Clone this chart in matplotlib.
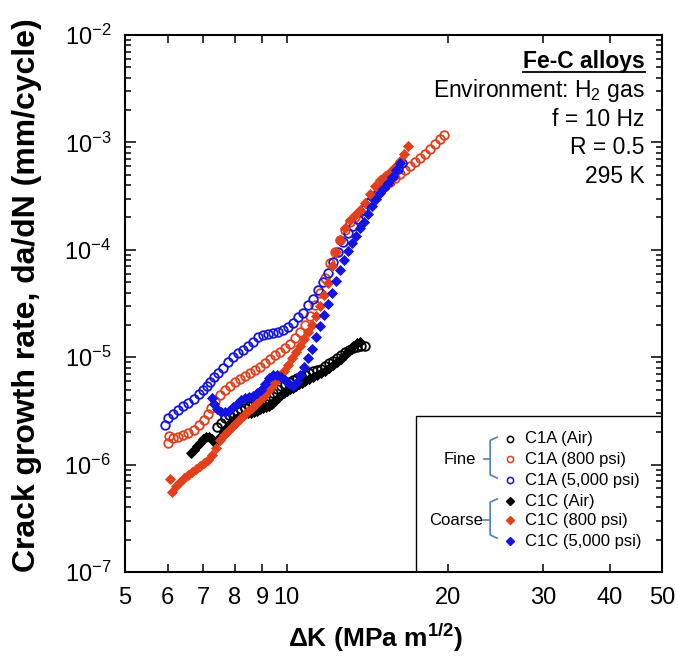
import math
import matplotlib
matplotlib.use("Agg")
import matplotlib.pyplot as plt
from matplotlib.ticker import FixedLocator, NullLocator, LogLocator, FuncFormatter, NullFormatter
from matplotlib.patches import Rectangle

plt.rcParams['font.family'] = ['Liberation Sans', 'DejaVu Sans']
plt.rcParams['mathtext.fontset'] = 'custom'
plt.rcParams['mathtext.rm'] = 'Liberation Sans'
plt.rcParams['mathtext.bf'] = 'Liberation Sans:bold'
plt.rcParams['mathtext.default'] = 'regular'

# --- data (dK in MPa m^1/2, da/dN in mm/cycle) ---
dk_c1a_air = [7.42, 7.54, 7.68, 7.81, 7.94, 8.08, 8.23, 8.37, 8.51, 8.66, 8.81, 8.96, 9.11, 9.27,
              9.43, 9.59, 9.76, 9.93, 10.1, 10.28, 10.46, 10.64, 10.82, 11.0, 11.2, 11.39, 11.59,
              11.79, 11.99, 12.2, 12.42, 12.63, 12.85, 13.07, 13.3, 13.53, 13.76, 14.0]
da_c1a_air = [2.25e-6, 2.45e-6, 2.7e-6, 2.9e-6, 3.05e-6, 3.15e-6, 3.22e-6, 3.4e-6, 3.5e-6, 3.7e-6,
              3.85e-6, 3.9e-6, 4.1e-6, 4.35e-6, 4.65e-6, 5.05e-6, 5.4e-6, 5.6e-6, 5.9e-6, 6.1e-6,
              6.4e-6, 6.7e-6, 6.9e-6, 7.1e-6, 7.4e-6, 7.6e-6, 7.8e-6, 8.3e-6, 8.9e-6, 9.2e-6,
              9.9e-6, 1.04e-5, 1.12e-5, 1.17e-5, 1.22e-5, 1.24e-5, 1.26e-5, 1.28e-5]

dk_c1a_800 = [6.0, 6.03, 6.15, 6.28, 6.42, 6.56, 6.71, 6.87, 7.02, 7.14, 7.23, 7.35, 7.51, 7.68,
              7.84, 8.01, 8.19, 8.37, 8.55, 8.73, 8.92, 9.11, 9.31, 9.51, 9.72, 9.93, 10.15, 10.37,
              10.59, 10.82, 11.05, 11.29, 11.54, 11.79, 12.04, 12.31, 12.57, 12.85, 13.12, 13.41,
              13.7, 14.0, 14.3, 14.61, 14.93, 15.25, 15.58, 15.92, 16.26, 16.61, 16.97, 17.34,
              17.72, 18.1, 18.49, 18.89, 19.3, 19.64]
da_c1a_800 = [1.6e-6, 1.85e-6, 1.75e-6, 1.82e-6, 1.89e-6, 1.97e-6, 2.1e-6, 2.34e-6, 2.6e-6, 2.95e-6,
              3.35e-6, 3.9e-6, 4.45e-6, 4.95e-6, 5.4e-6, 5.9e-6, 6.3e-6, 6.7e-6, 7.1e-6, 7.6e-6,
              8.1e-6, 8.8e-6, 9.6e-6, 1.05e-5, 1.12e-5, 1.22e-5, 1.33e-5, 1.5e-5, 1.7e-5, 1.99e-5,
              2.42e-5, 3.06e-5, 3.95e-5, 5.45e-5, 7.5e-5, 9.5e-5, 1.23e-4, 1.53e-4, 1.82e-4,
              2.0e-4, 2.25e-4, 2.5e-4, 2.85e-4, 3.24e-4, 3.6e-4, 3.95e-4, 4.3e-4, 4.7e-4, 5.1e-4,
              5.5e-4, 6.0e-4, 6.6e-4, 7.1e-4, 7.8e-4, 8.7e-4, 9.7e-4, 1.07e-3, 1.17e-3]

dk_c1a_5000 = [5.94, 6.0, 6.15, 6.28, 6.42, 6.56, 6.71, 6.87, 6.99, 7.1, 7.2, 7.32, 7.45, 7.6,
               7.77, 7.94, 8.12, 8.3, 8.48, 8.66, 8.85, 9.04, 9.23, 9.43, 9.64, 9.85, 10.06, 10.28,
               10.5, 10.73, 10.96, 11.2, 11.44, 11.69, 11.94, 12.2, 12.47, 12.74, 13.01, 13.3,
               13.58, 13.88, 14.18, 14.49, 14.8, 15.12, 15.45, 15.78, 16.12, 16.4]
da_c1a_5000 = [2.34e-6, 2.7e-6, 2.95e-6, 3.22e-6, 3.5e-6, 3.75e-6, 4.05e-6, 4.5e-6, 4.95e-6, 5.4e-6,
               5.9e-6, 6.6e-6, 7.2e-6, 8.0e-6, 9.0e-6, 1.0e-5, 1.1e-5, 1.17e-5, 1.28e-5, 1.4e-5,
               1.53e-5, 1.61e-5, 1.65e-5, 1.69e-5, 1.72e-5, 1.79e-5, 1.9e-5, 2.1e-5, 2.35e-5,
               2.6e-5, 3.06e-5, 3.5e-5, 4.2e-5, 5.0e-5, 6.1e-5, 7.7e-5, 9.5e-5, 1.17e-4, 1.43e-4,
               1.66e-4, 1.93e-4, 2.35e-4, 2.7e-4, 3.1e-4, 3.4e-4, 3.85e-4, 4.3e-4, 4.85e-4,
               5.6e-4, 6.4e-4]

dk_c1c_air = [6.64, 6.72, 6.81, 6.9, 6.99, 7.08, 7.17, 7.26, 7.35, 7.45, 7.54, 7.64, 7.74, 7.84,
              7.94, 8.05, 8.15, 8.26, 8.37, 8.48, 8.59, 8.7, 8.81, 8.92, 9.03, 9.15, 9.27, 9.39,
              9.51, 9.64, 9.76, 9.89, 10.02, 10.15, 10.28, 10.41, 10.55, 10.68, 10.82, 11.0, 11.2,
              11.39, 11.59, 11.79, 11.99, 12.2, 12.42, 12.63, 12.85, 13.07, 13.3, 13.53, 13.7]
da_c1c_air = [1.28e-6, 1.37e-6, 1.48e-6, 1.6e-6, 1.72e-6, 1.82e-6, 1.82e-6, 1.72e-6, 1.6e-6,
              1.69e-6, 1.85e-6, 2.02e-6, 2.2e-6, 2.4e-6, 2.55e-6, 2.67e-6, 2.8e-6, 2.85e-6,
              2.98e-6, 3.05e-6, 3.05e-6, 3.1e-6, 3.15e-6, 3.3e-6, 3.35e-6, 3.45e-6, 3.5e-6,
              3.7e-6, 3.95e-6, 4.2e-6, 4.45e-6, 4.65e-6, 4.85e-6, 5.05e-6, 5.15e-6, 5.4e-6,
              5.6e-6, 5.75e-6, 6.0e-6, 6.25e-6, 6.5e-6, 6.8e-6, 7.1e-6, 7.4e-6, 7.9e-6, 8.5e-6,
              9.1e-6, 9.7e-6, 1.05e-5, 1.15e-5, 1.26e-5, 1.35e-5, 1.4e-5]

dk_c1c_800 = [6.06, 6.11, 6.22, 6.33, 6.45, 6.56, 6.67, 6.78, 6.9, 7.02, 7.14, 7.26, 7.38, 7.51,
              7.64, 7.77, 7.91, 8.05, 8.19, 8.33, 8.48, 8.62, 8.77, 8.92, 9.07, 9.23, 9.39, 9.55,
              9.72, 9.89, 10.06, 10.24, 10.42, 10.59, 10.78, 10.96, 11.15, 11.34, 11.54, 11.74,
              11.94, 12.15, 12.36, 12.57, 12.85, 13.12, 13.41, 13.7, 14.0, 14.3, 14.61, 14.93,
              15.25, 15.58, 15.92, 16.26, 16.54, 16.82]
da_c1c_800 = [7.3e-7, 5.6e-7, 6.3e-7, 6.9e-7, 7.5e-7, 8.0e-7, 8.5e-7, 9.1e-7, 9.7e-7, 1.03e-6,
              1.1e-6, 1.23e-6, 1.43e-6, 1.69e-6, 1.89e-6, 2.05e-6, 2.25e-6, 2.45e-6, 2.67e-6,
              2.9e-6, 3.15e-6, 3.4e-6, 3.7e-6, 4.0e-6, 4.35e-6, 4.85e-6, 5.4e-6, 6.0e-6, 6.7e-6,
              7.45e-6, 8.5e-6, 9.8e-6, 1.12e-5, 1.28e-5, 1.48e-5, 1.73e-5, 1.99e-5, 2.42e-5,
              3.0e-5, 3.79e-5, 4.9e-5, 7.0e-5, 9.5e-5, 1.23e-4, 1.6e-4, 1.89e-4, 2.11e-4, 2.35e-4,
              2.7e-4, 3.3e-4, 3.95e-4, 4.47e-4, 4.85e-4, 5.3e-4, 5.9e-4, 6.7e-4, 7.8e-4, 9.2e-4]

dk_c1c_5000 = [7.26, 7.32, 7.42, 7.54, 7.68, 7.81, 7.94, 8.08, 8.23, 8.37, 8.51, 8.66, 8.81, 8.96,
               9.11, 9.27, 9.43, 9.59, 9.76, 9.93, 10.1, 10.28, 10.46, 10.59, 10.78, 10.96, 11.15,
               11.34, 11.54, 11.74, 11.94, 12.15, 12.36, 12.57, 12.79, 13.01, 13.24, 13.47, 13.7,
               13.94, 14.18, 14.42, 14.67, 14.93, 15.19, 15.45, 15.72, 15.99, 16.26]
da_c1c_5000 = [4.2e-6, 3.65e-6, 3.3e-6, 3.1e-6, 3.1e-6, 3.15e-6, 3.45e-6, 3.7e-6, 4.0e-6, 4.2e-6,
               4.25e-6, 4.35e-6, 4.6e-6, 5.0e-6, 5.6e-6, 6.4e-6, 6.9e-6, 6.9e-6, 6.5e-6, 6.1e-6,
               5.6e-6, 5.35e-6, 5.85e-6, 6.8e-6, 8.1e-6, 9.9e-6, 1.2e-5, 1.55e-5, 1.95e-5, 2.45e-5,
               3.1e-5, 4.0e-5, 5.1e-5, 6.5e-5, 8.0e-5, 9.8e-5, 1.16e-4, 1.35e-4, 1.58e-4, 1.83e-4,
               2.17e-4, 2.58e-4, 3.0e-4, 3.4e-4, 3.8e-4, 4.2e-4, 4.8e-4, 5.5e-4, 6.4e-4]

x_ticks = [5, 6, 7, 8, 9, 10, 20, 30, 40, 50]
x_ticklabels = ['5', '6', '7', '8', '9', '10', '20', '30', '40', '50']

red = '#e2401c'
blue = '#1414e0'

# label, x, y, marker, filled, colour
series = [
    ('C1A (Air)', dk_c1a_air, da_c1a_air, 'o', False, 'black'),
    ('C1A (800 psi)', dk_c1a_800, da_c1a_800, 'o', False, red),
    ('C1A (5,000 psi)', dk_c1a_5000, da_c1a_5000, 'o', False, blue),
    ('C1C (Air)', dk_c1c_air, da_c1c_air, 'D', True, 'black'),
    ('C1C (800 psi)', dk_c1c_800, da_c1c_800, 'D', True, red),
    ('C1C (5,000 psi)', dk_c1c_5000, da_c1c_5000, 'D', True, blue),
]

fig = plt.figure(figsize=(6.78, 6.60), dpi=100)
ax = fig.add_axes([125 / 678, 1 - 572 / 660, 537 / 678, 537 / 660])

for label, x, y, m, filled, c in series:
    if filled:
        ax.plot(x, y, linestyle='none', marker=m, markersize=4.8, color=c,
                markeredgewidth=0.6, label=label)
    else:
        ax.plot(x, y, linestyle='none', marker=m, markersize=6.2, markerfacecolor='none',
                markeredgecolor=c, markeredgewidth=1.3, label=label)

ax.set_xscale('log')
ax.set_yscale('log')
ax.set_xlim(5, 50)
ax.set_ylim(1e-7, 1e-2)

ax.xaxis.set_major_locator(FixedLocator(x_ticks))
ax.xaxis.set_major_formatter(FuncFormatter(lambda v, p: x_ticklabels[x_ticks.index(int(round(v)))]))
ax.xaxis.set_minor_locator(NullLocator())
ax.yaxis.set_major_locator(LogLocator(base=10, numticks=10))
ax.yaxis.set_minor_locator(LogLocator(base=10, subs=range(2, 10), numticks=10))
ax.yaxis.set_minor_formatter(NullFormatter())
ax.yaxis.set_major_formatter(FuncFormatter(lambda v, p: r'$10^{%d}$' % round(math.log10(v))))

ax.tick_params(which='both', direction='in', top=True, right=True, width=1.1)
ax.tick_params(axis='x', which='major', length=6, labelsize=17, pad=11)
ax.tick_params(axis='y', which='major', length=8, labelsize=17, pad=10)
ax.tick_params(axis='y', which='minor', length=4.5)
for s in ax.spines.values():
    s.set_linewidth(1.5)

ax.set_xlabel(r'$\mathbf{\Delta}$K (MPa m$^{1/2}$)', fontsize=19, fontweight='bold')
ax.set_ylabel('Crack growth rate, da/dN (mm/cycle)', fontsize=23, fontweight='bold')
ax.xaxis.set_label_coords(0.466, -0.093)
ax.yaxis.set_label_coords(-0.155, 0.516)

# text block top right
t = ax.text(0.968, 0.950, 'Fe-C alloys', transform=ax.transAxes, ha='right', va='center',
            fontsize=16.5, fontweight='bold')
info = ['Environment: H$_2$ gas', 'f = 10 Hz', 'R = 0.5', '295 K']
for i, s in enumerate(info):
    ax.text(0.968, 0.896 - i * 0.053, s, transform=ax.transAxes, ha='right', va='center',
            fontsize=16.5)

fig.canvas.draw()
bb = t.get_window_extent().transformed(ax.transAxes.inverted())
ax.plot([bb.x0, bb.x1], [bb.y0 + 0.003, bb.y0 + 0.003], color='black', lw=1.3,
        transform=ax.transAxes, clip_on=False)

# legend box drawn by hand
ax.add_patch(Rectangle((0.542, 0.0), 0.458, 0.2905, transform=ax.transAxes, fill=False,
                       edgecolor='black', lw=1.0, zorder=5))
row_y = [0.2477, 0.2104, 0.1713, 0.1322, 0.0968, 0.0577]
for (label, x, y, m, filled, c), ry in zip(series, row_y):
    if filled:
        ax.plot([0.717], [ry], marker=m, markersize=3.8, color=c, linestyle='none',
                transform=ax.transAxes, clip_on=False)
    else:
        ax.plot([0.717], [ry], marker=m, markersize=4.5, markerfacecolor='none',
                markeredgecolor=c, markeredgewidth=1.1, linestyle='none',
                transform=ax.transAxes, clip_on=False)
    ax.text(0.745, ry, label, transform=ax.transAxes, ha='left', va='center', fontsize=12)

brace_c = '#4f81bd'
for y_top, y_bot, y_mid, x_nub in [(0.251, 0.175, 0.2104, 0.669), (0.136, 0.063, 0.0968, 0.667)]:
    ax.plot([0.693, 0.680, 0.680, 0.693], [y_top, y_top - 0.006, y_bot + 0.006, y_bot],
            color=brace_c, lw=1.2, transform=ax.transAxes)
    ax.plot([x_nub, 0.680], [y_mid, y_mid], color=brace_c, lw=1.2, transform=ax.transAxes)
ax.text(0.624, 0.2104, 'Fine', transform=ax.transAxes, ha='center', va='center', fontsize=12)
ax.text(0.667, 0.0968, 'Coarse', transform=ax.transAxes, ha='right', va='center', fontsize=12)

fig.savefig('out.png', dpi=100)
